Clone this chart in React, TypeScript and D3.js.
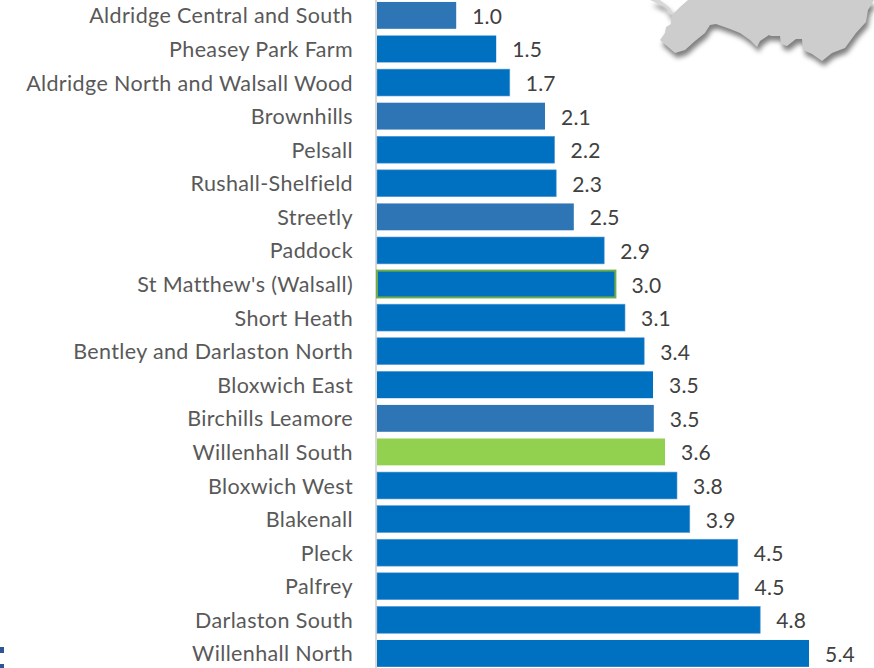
import React from "react";
import * as d3 from "d3";

const categories = ["Aldridge Central and South","Pheasey Park Farm","Aldridge North and Walsall Wood","Brownhills","Pelsall","Rushall-Shelfield","Streetly","Paddock","St Matthew's (Walsall)","Short Heath","Bentley and Darlaston North","Bloxwich East","Birchills Leamore","Willenhall South","Bloxwich West","Blakenall","Pleck","Palfrey","Darlaston South","Willenhall North"];
const labels = ["1.0","1.5","1.7","2.1","2.2","2.3","2.5","2.9","3.0","3.1","3.4","3.5","3.5","3.6","3.8","3.9","4.5","4.5","4.8","5.4"];
const values = [0.99,1.49,1.66,2.10,2.22,2.24,2.46,2.84,2.98,3.10,3.34,3.45,3.46,3.60,3.75,3.91,4.51,4.52,4.79,5.40];
const fills = ["#2e75b6","#0070c0","#0070c0","#2e75b6","#0070c0","#0070c0","#2e75b6","#0070c0","#0070c0","#0070c0","#0070c0","#0070c0","#2e75b6","#92d050","#0070c0","#0070c0","#0070c0","#0070c0","#0070c0","#0070c0"];
const strokes = ["none","none","#5b9bd5","none","#5b9bd5","#5b9bd5","none","#5b9bd5","#70ad47","#5b9bd5","#5b9bd5","none","none","none","#5b9bd5","#5b9bd5","#5b9bd5","#5b9bd5","#5b9bd5","none"];
const mapOutline: [number, number][] = [[688,0],[680,7],[672,15],[671,24],[666,27],[665,33],[660,40],[668,47],[675,53],[685,50],[695,41],[705,33],[710,25],[716,24],[730,29],[740,33],[750,40],[757,47],[760,41],[769,35],[771,36],[780,36],[781,44],[787,46],[796,39],[802,39],[803,50],[812,54],[822,61],[832,53],[845,48],[856,33],[866,22],[868,10],[874,0]];
const mapStrip: [number, number][] = [[650,0],[667,8],[668,13],[672,15],[673,14],[670,8],[660,0]];
const FONT = "Lato, 'Open Sans', sans-serif";

export default function App() {
  const x = d3.scaleLinear().domain([0, 5.4]).range([377, 809]);
  const y = d3.scaleBand().domain(categories).range([-1.4, 670.2]).paddingInner(0.2).paddingOuter(0.1);
  const line = d3.line();
  const mapD = line(mapOutline)! + "Z";
  const stripD = line(mapStrip)! + "Z";
  return (
    <svg width={874} height={668} style={{ position: "fixed", left: 0, top: 0, background: "#fff" }} fontFamily={FONT}>
      <defs>
        <filter id="blurWide" filterUnits="userSpaceOnUse" x={620} y={-20} width={274} height={120}>
          <feGaussianBlur stdDeviation="2.5" />
        </filter>
        <filter id="blurEdge" filterUnits="userSpaceOnUse" x={620} y={-20} width={274} height={120}>
          <feGaussianBlur stdDeviation="0.5" />
        </filter>
      </defs>
      <g filter="url(#blurWide)" transform="translate(2,5)" fill="#000" fillOpacity={0.5}>
        <path d={mapD} />
        <path d={stripD} />
      </g>
      <g filter="url(#blurEdge)">
        <path d={mapD} fill="#cdcdcd" />
        <path d={stripD} fill="#d8d8d8" />
      </g>
      <rect x={0} y={647} width={4} height={6} fill="#2f5597" />
      <rect x={0} y={664} width={4} height={4} fill="#2f5597" />
      <line x1={376} x2={376} y1={0} y2={668} stroke="#d9d9d9" strokeWidth={2} />
      {categories.map((c, i) => {
        const by = y(c)!;
        const bh = y.bandwidth();
        const cy = by + bh / 2;
        const green = strokes[i] === "#70ad47";
        return (
          <g key={c}>
            <rect x={x(0)} y={by} width={x(values[i]) - x(0)} height={bh} fill={fills[i]}
              stroke={strokes[i]} strokeWidth={green ? 2 : 0.6} />
            <text x={353} y={cy} textAnchor="end" dominantBaseline="central" fontSize={21.5} letterSpacing={0.37} fill="#595959">{c}</text>
            <text x={x(values[i]) + 16} y={cy} dominantBaseline="central" fontSize={21} letterSpacing={0.2} fill="#404040">{labels[i]}</text>
          </g>
        );
      })}
    </svg>
  );
}
